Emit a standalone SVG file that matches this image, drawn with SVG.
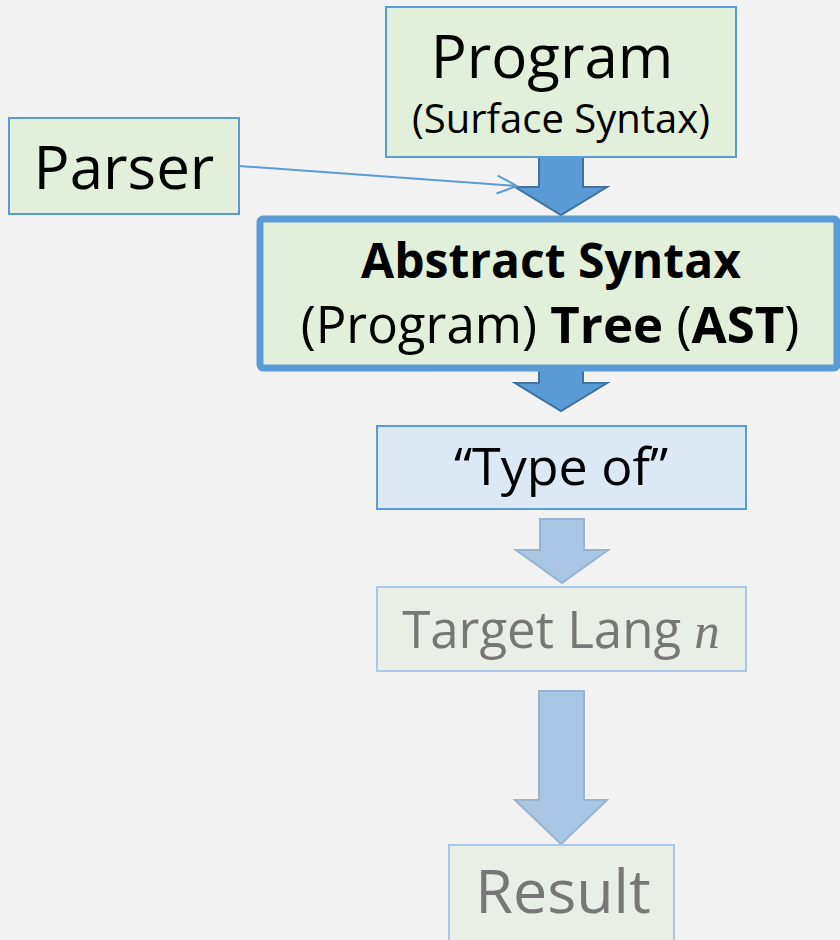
<svg xmlns="http://www.w3.org/2000/svg" width="840" height="940" viewBox="0 0 840 940">
<style>
.t{font-family:"Open Sans","Noto Sans","DejaVu Sans",sans-serif;text-anchor:middle}
.g{fill:#e2efda;stroke:#5b9bd5;stroke-width:2}
.fade{fill:#e9efe6;stroke:#a9c8e6;stroke-width:2}
.dark{fill:#5b9bd5;stroke:#41719c;stroke-width:2}
.light{fill:#a8c6e3;stroke:#98b4d0;stroke-width:2}
.b{font-weight:bold}
</style>
<defs>
<marker id="open" viewBox="0 0 24 24" refX="22" refY="12" markerWidth="24" markerHeight="24" markerUnits="userSpaceOnUse" orient="auto">
<path d="M2,3 L22,12 L2,21" fill="none" stroke="#5b9bd5" stroke-width="2"/>
</marker>
</defs>
<rect width="840" height="940" fill="#f2f2f2"/>
<g id="connectors">
<path class="dark" d="M539,156 H583 V187 H607 L561,215 L515,187 H539 Z"/>
<path class="dark" d="M539,370 H583 V383 H607 L561,411 L515,383 H539 Z"/>
<path class="light" d="M540,519 H584 V550 H608 L562,583 L516,550 H540 Z"/>
<path class="light" d="M539,691 H584 V800 H607 L561,844 L515,800 H539 Z"/>
<line x1="239" y1="166" x2="517" y2="186" stroke="#5b9bd5" stroke-width="2" marker-end="url(#open)"/>
</g>
<g id="program">
<rect class="g" x="386" y="7" width="350" height="150"/>
<text class="t" x="552" y="78" font-size="60">Program</text>
<text class="t" x="561" y="133" font-size="40">(Surface Syntax)</text>
</g>
<g id="parser">
<rect class="g" x="9" y="118" width="230" height="96"/>
<text class="t" x="124" y="189" font-size="60">Parser</text>
</g>
<g id="ast">
<rect x="260" y="219" width="577" height="149" rx="3" fill="#e2efda" stroke="#5b9bd5" stroke-width="7"/>
<text class="t b" x="551" y="278" font-size="48">Abstract Syntax</text>
<text class="t" x="550" y="343" font-size="51">(Program) <tspan class="b">Tree</tspan> (<tspan class="b">AST</tspan>)</text>
</g>
<g id="typeof">
<rect x="377" y="426" width="369" height="83" fill="#dde8f5" stroke="#5b9bd5" stroke-width="2"/>
<text class="t" x="561" y="485" font-size="52">“Type of”</text>
</g>
<g id="target">
<rect class="fade" x="377" y="587" width="369" height="84"/>
<text class="t" x="561" y="648" font-size="51" fill="#777777">Target Lang <tspan font-style="italic" font-family="'Liberation Serif',serif">n</tspan></text>
</g>
<g id="result">
<rect class="fade" x="449" y="845" width="225" height="100"/>
<text class="t" x="563" y="913" font-size="61" fill="#777777">Result</text>
</g>
</svg>
